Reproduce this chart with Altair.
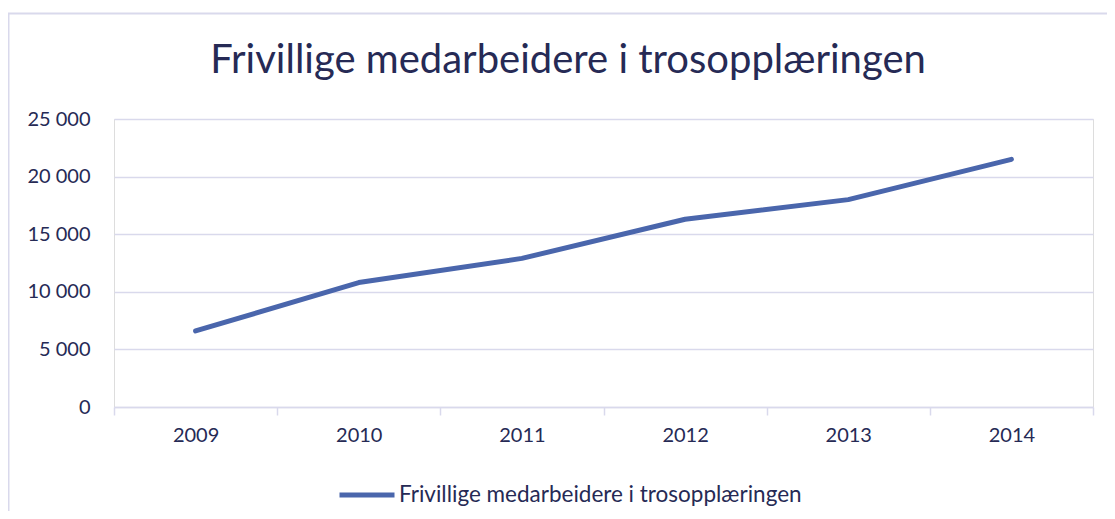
import altair as alt
import pandas as pd

years = ["2009", "2010", "2011", "2012", "2013", "2014"]
values = [6600, 10800, 12900, 16300, 18000, 21500]
series = "Frivillige medarbeidere i trosopplæringen"
title_text = "Frivillige medarbeidere i trosopplæringen"
y_ticks = [0, 5000, 10000, 15000, 20000, 25000]

df = pd.DataFrame({"year": years, "value": values, "serie": [series] * len(years)})

FONT = "Lato"
TEXT = "#262a55"
GRID = "#d9d9ec"
LINE = "#4a66ac"

line = (
    alt.Chart(df)
    .mark_line(strokeWidth=5, strokeCap="round", strokeJoin="round")
    .encode(
        x=alt.X(
            "year:O",
            bandPosition=0.5,
            scale=alt.Scale(type="band", paddingInner=0, paddingOuter=0),
            axis=alt.Axis(
                title=None,
                tickBand="extent",
                tickSize=8,
                tickColor=GRID,
                tickWidth=1.5,
                domainColor=GRID,
                domainWidth=1.5,
                labelAngle=0,
                labelFont=FONT,
                labelFontSize=20,
                labelColor=TEXT,
                labelPadding=10,
                grid=False,
            ),
        ),
        y=alt.Y(
            "value:Q",
            scale=alt.Scale(domain=[0, 25000], nice=False),
            axis=alt.Axis(
                title=None,
                values=y_ticks,
                labelExpr="replace(format(datum.value, ','), ',', ' ')",
                domain=False,
                ticks=False,
                gridColor=GRID,
                gridWidth=1.5,
                labelFont=FONT,
                labelFontSize=20,
                labelColor=TEXT,
                labelPadding=24,
            ),
        ),
        color=alt.Color(
            "serie:N",
            scale=alt.Scale(range=[LINE]),
            legend=alt.Legend(
                title=None,
                orient="none",
                legendX=223,
                legendY=346,
                symbolType="stroke",
                symbolSize=3025,
                symbolStrokeWidth=5,
                labelFont=FONT,
                labelFontSize=22.5,
                labelColor=TEXT,
                labelOffset=2,
                labelLimit=0,
            ),
        ),
    )
)

border = (
    alt.Chart(pd.DataFrame({"b": [0]}))
    .mark_rect(fill=None, stroke=GRID, strokeWidth=2)
    .encode(
        x=alt.value(-105.5),
        y=alt.value(-105.5),
        x2=alt.value(1200),
        y2=alt.value(600),
    )
)

title = (
    alt.Chart(pd.DataFrame({"t": [title_text]}))
    .mark_text(
        font=FONT,
        fontSize=40,
        fontWeight="normal",
        color=TEXT,
        align="center",
        baseline="alphabetic",
    )
    .encode(
        text="t:N",
        x=alt.value(454),
        y=alt.value(-46),
    )
)

chart = (
    alt.layer(border, title, line)
    .properties(
        width=979,
        height=288,
        autosize=alt.AutoSizeParams(type="none"),
        padding={"left": 106, "top": 111, "right": 14, "bottom": 104},
    )
    .configure_view(stroke=None)
    .configure(background="white")
)

chart.save("out.html", embed_options={"renderer": "svg", "actions": False})
